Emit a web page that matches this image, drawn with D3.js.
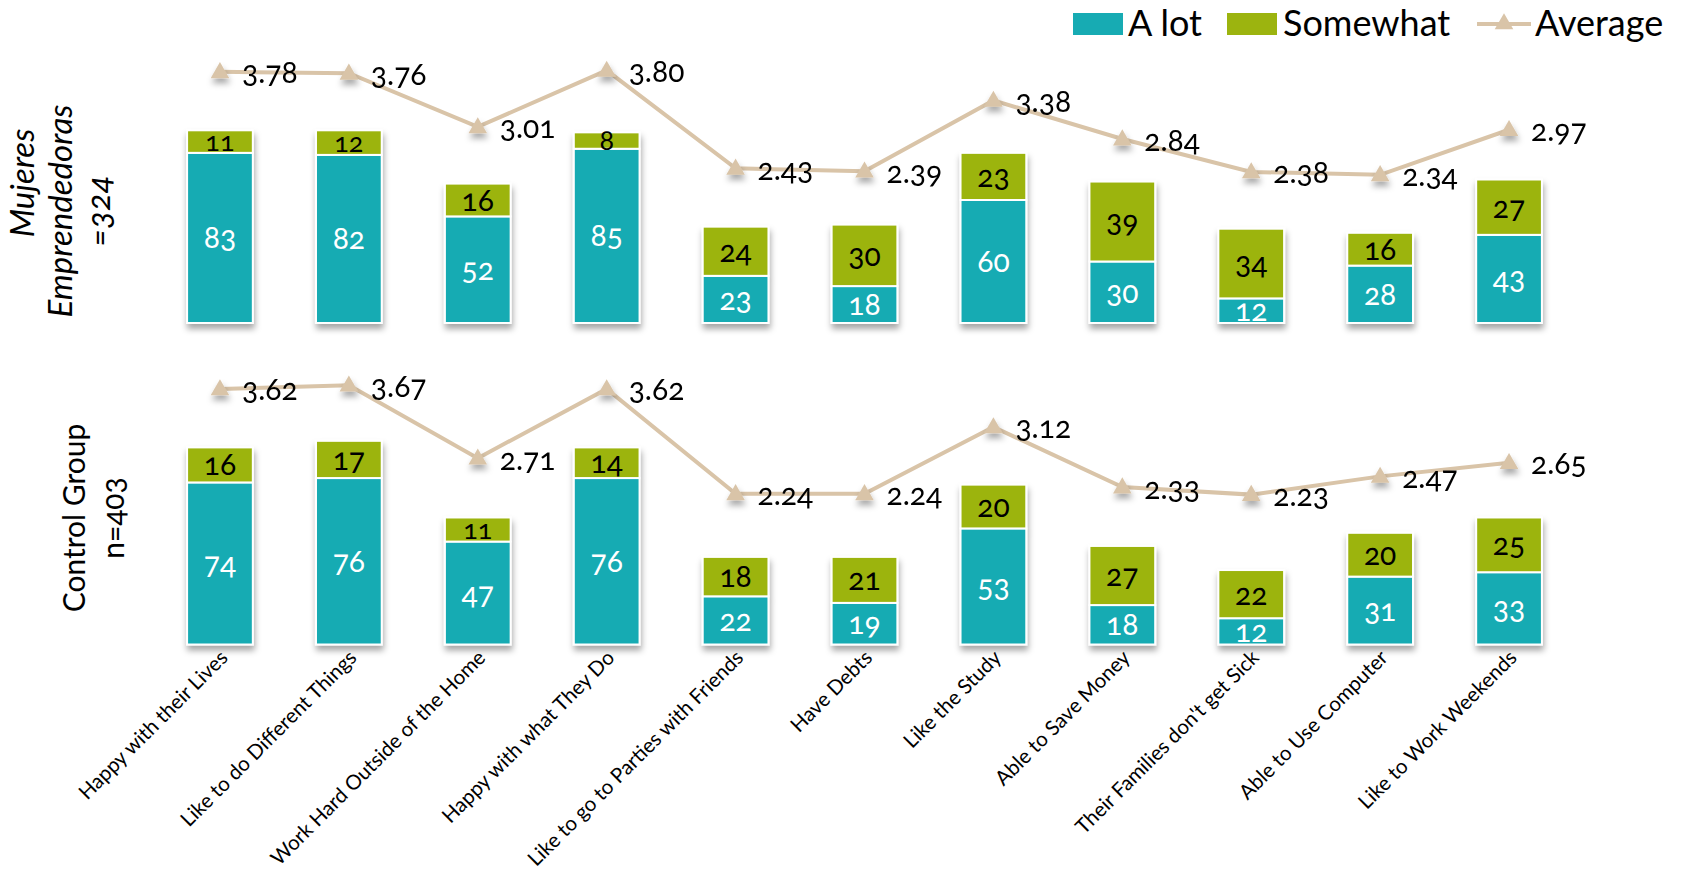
<!DOCTYPE html>
<html>
<head>
<meta charset="utf-8">
<script src="https://cdn.jsdelivr.net/npm/d3@7"></script>
<style>
  body { margin: 0; background: #fff; }
  svg text { font-family: Lato, "Open Sans", sans-serif; font-variant-numeric: oldstyle-nums; }
</style>
</head>
<body>
<div class="chart-box"></div>
<script>
/* Data */
const categories = ["Happy with their Lives", "Like to do Different Things", "Work Hard Outside of the Home",
  "Happy with what They Do", "Like to go to Parties with Friends", "Have Debts", "Like the Study",
  "Able to Save Money", "Their Families don't get Sick", "Able to Use Computer", "Like to Work Weekends"];
const mujeresALot = [83, 82, 52, 85, 23, 18, 60, 30, 12, 28, 43];
const mujeresSomewhat = [11, 12, 16, 8, 24, 30, 23, 39, 34, 16, 27];
const mujeresAverage = [3.78, 3.76, 3.01, 3.80, 2.43, 2.39, 3.38, 2.84, 2.38, 2.34, 2.97];
const controlALot = [74, 76, 47, 76, 22, 19, 53, 18, 12, 31, 33];
const controlSomewhat = [16, 17, 11, 14, 18, 21, 20, 27, 22, 20, 25];
const controlAverage = [3.62, 3.67, 2.71, 3.62, 2.24, 2.24, 3.12, 2.33, 2.23, 2.47, 2.65];
const seriesNames = ["A lot", "Somewhat", "Average"];

/* Declare constants */
const width = 1681, height = 873;
const teal = "#17abb3", green = "#9cb40f", tan = "#d9c4a8";

let svg = d3.select(".chart-box")
  .append("svg")
  .attr("width", width)
  .attr("height", height);

let defs = svg.append("defs");
let shadow = defs.append("filter").attr("id", "shadow")
  .attr("x", "-20%").attr("y", "-20%").attr("width", "140%").attr("height", "140%");
shadow.append("feDropShadow")
  .attr("dx", 1).attr("dy", 5).attr("stdDeviation", 3)
  .attr("flood-color", "#000").attr("flood-opacity", 0.35);

let x = d3.scaleBand()
  .domain(categories)
  .range([155.5, 1573.5])
  .paddingInner(0.49)
  .paddingOuter(0.245);

const tri = d3.symbol().type(d3.symbolTriangle).size(150);

/* Panels: bar scale + average scale */
let panels = [
  { aLot: mujeresALot, somewhat: mujeresSomewhat, avg: mujeresAverage,
    y: d3.scaleLinear().domain([0, 100]).range([323, 118]),
    yAvg: d3.scaleLinear().domain([2, 4]).range([199.1, 56.1]) },
  { aLot: controlALot, somewhat: controlSomewhat, avg: controlAverage,
    y: d3.scaleLinear().domain([0, 100]).range([644.5, 425.5]),
    yAvg: d3.scaleLinear().domain([2, 4]).range([512.1, 360.1]) }
];

function renderPanel(p) {
  let g = svg.append("g");
  let rows = categories.map((c, i) => ({ c: c, a: p.aLot[i], s: p.somewhat[i], v: p.avg[i] }));
  let cx = d => x(d.c) + x.bandwidth() / 2;

  //bars with shadow
  let bars = g.append("g").attr("filter", "url(#shadow)")
    .selectAll("g").data(rows).enter().append("g");
  bars.append("rect")
    .attr("x", d => x(d.c))
    .attr("width", x.bandwidth())
    .attr("y", d => p.y(d.a))
    .attr("height", d => p.y(0) - p.y(d.a))
    .attr("fill", teal)
    .attr("stroke", "#fff").attr("stroke-width", 2);
  bars.append("rect")
    .attr("x", d => x(d.c))
    .attr("width", x.bandwidth())
    .attr("y", d => p.y(d.a + d.s))
    .attr("height", d => p.y(d.a) - p.y(d.a + d.s))
    .attr("fill", green)
    .attr("stroke", "#fff").attr("stroke-width", 2);

  //bar labels
  g.selectAll(".lab-a").data(rows).enter().append("text")
    .attr("x", cx)
    .attr("y", d => (p.y(0) + p.y(d.a)) / 2)
    .attr("dy", "0.35em")
    .attr("text-anchor", "middle")
    .attr("fill", "#fff")
    .style("font-size", "30px")
    .text(d => d.a);
  g.selectAll(".lab-s").data(rows).enter().append("text")
    .attr("x", cx)
    .attr("y", d => (p.y(d.a) + p.y(d.a + d.s)) / 2)
    .attr("dy", "0.35em")
    .attr("text-anchor", "middle")
    .attr("fill", "#000")
    .style("font-size", d => d.s < 13 ? "27px" : "30px")
    .text(d => d.s);

  //average line
  let line = d3.line().x(cx).y(d => p.yAvg(d.v));
  g.append("path")
    .datum(rows)
    .attr("d", line)
    .attr("fill", "none")
    .attr("stroke", tan)
    .attr("stroke-width", 4);
  g.append("g").attr("filter", "url(#shadow)")
    .selectAll("path").data(rows).enter().append("path")
    .attr("d", tri)
    .attr("transform", d => `translate(${cx(d)},${p.yAvg(d.v) + 1})`)
    .attr("fill", tan);
  g.selectAll(".lab-v").data(rows).enter().append("text")
    .attr("x", d => cx(d) + 22)
    .attr("y", d => p.yAvg(d.v) + 1)
    .attr("dy", "0.35em")
    .attr("fill", "#000")
    .style("font-size", "30px")
    .text(d => d.v.toFixed(2));
}

panels.forEach(renderPanel);

/* Category labels */
svg.append("g").selectAll("text")
  .data(categories).enter().append("text")
  .attr("transform", d => `translate(${x(d) + x.bandwidth() / 2 + 9},${659}) rotate(-45)`)
  .attr("text-anchor", "end")
  .style("font-size", "20.5px")
  .attr("fill", "#000")
  .text(d => d);

/* Panel titles */
let t1 = svg.append("g").style("font-style", "italic").style("font-size", "33px");
t1.append("text").attr("transform", "translate(34,183) rotate(-90)").attr("text-anchor", "middle").text("Mujeres");
t1.append("text").attr("transform", "translate(72,211) rotate(-90)").attr("text-anchor", "middle").text("Emprendedoras");
t1.append("text").attr("transform", "translate(110,211) rotate(-90)").attr("text-anchor", "middle").text("=324");
let t2 = svg.append("g").style("font-size", "30px");
t2.append("text").attr("transform", "translate(85,518) rotate(-90)").attr("text-anchor", "middle").text("Control Group");
t2.append("text").attr("transform", "translate(124,518) rotate(-90)").attr("text-anchor", "middle").text("n=403");

/* Legend */
let legend = svg.append("g").style("font-size", "36px");
legend.append("rect").attr("x", 1073).attr("y", 13).attr("width", 50).attr("height", 22).attr("fill", teal);
legend.append("text").attr("x", 1128).attr("y", 36).text(seriesNames[0]);
legend.append("rect").attr("x", 1227).attr("y", 13).attr("width", 50).attr("height", 22).attr("fill", green);
legend.append("text").attr("x", 1283).attr("y", 36).text(seriesNames[1]);
legend.append("line").attr("x1", 1477).attr("x2", 1531).attr("y1", 24).attr("y2", 24)
  .attr("stroke", tan).attr("stroke-width", 4);
legend.append("path").attr("d", tri).attr("transform", "translate(1504,24)").attr("fill", tan);
legend.append("text").attr("x", 1535).attr("y", 36).text(seriesNames[2]);
</script>
</body>
</html>
